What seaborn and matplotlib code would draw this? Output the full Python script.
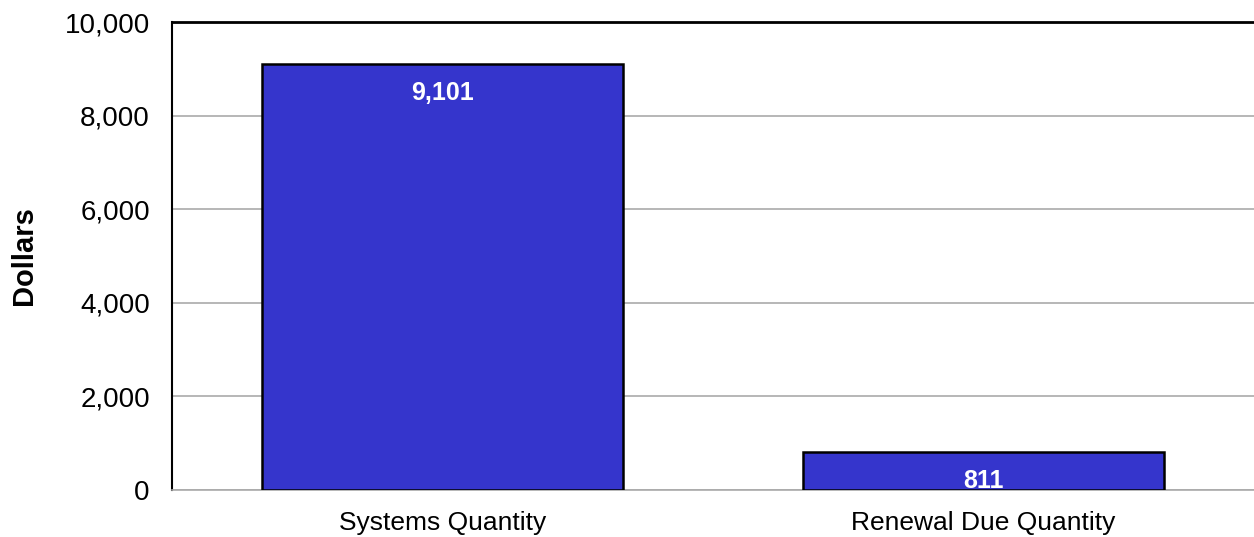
import matplotlib
matplotlib.use("Agg")
import matplotlib.pyplot as plt
import seaborn as sns
import pandas as pd

categories = ["Systems Quantity", "Renewal Due Quantity"]
values = [9101, 811]

df = pd.DataFrame({"category": categories, "value": values})

sns.set_style("white")
plt.rcParams["font.family"] = ["Liberation Sans", "DejaVu Sans"]
plt.rcParams["text.color"] = "black"
plt.rcParams["xtick.color"] = "black"
plt.rcParams["ytick.color"] = "black"

fig = plt.figure(figsize=(12.54, 5.37), dpi=100)
ax = fig.add_axes([0.1372, 0.0875, 0.8628, 0.8715])

sns.barplot(data=df, x="category", y="value", color="#3535CC", saturation=1,
            width=0.667, edgecolor="black", linewidth=1.8, ax=ax, zorder=3)

ax.set_ylim(0, 10000)
ax.set_xlim(-0.5, 1.5)
ax.set_yticks(range(0, 10001, 2000))
ax.set_yticklabels([f"{v:,}" for v in range(0, 10001, 2000)])
ax.yaxis.grid(True, color="#aaaaaa", linewidth=1.2, zorder=0)
ax.set_axisbelow(True)

ax.spines["right"].set_visible(False)
ax.spines["left"].set_color("black")
ax.spines["left"].set_linewidth(1.5)
ax.spines["top"].set_color("black")
ax.spines["top"].set_linewidth(2)
ax.spines["bottom"].set_color("#aaaaaa")
ax.spines["bottom"].set_linewidth(1.2)

ax.tick_params(axis="y", labelsize=20, length=0, pad=16, labelcolor="black")
ax.tick_params(axis="x", labelsize=19, length=0, pad=15, labelcolor="black")
ax.set_xlabel("")
ax.set_ylabel("Dollars", fontsize=21, fontweight="bold", color="black")
ax.yaxis.set_label_coords(-0.124, 0.5)

for i, v in enumerate(values):
    ax.annotate(f"{v:,}", (i, v), xytext=(0, -12), textcoords="offset points",
                ha="center", va="top", color="white", fontsize=18, fontweight="bold")

plt.savefig("out.png", dpi=100)
